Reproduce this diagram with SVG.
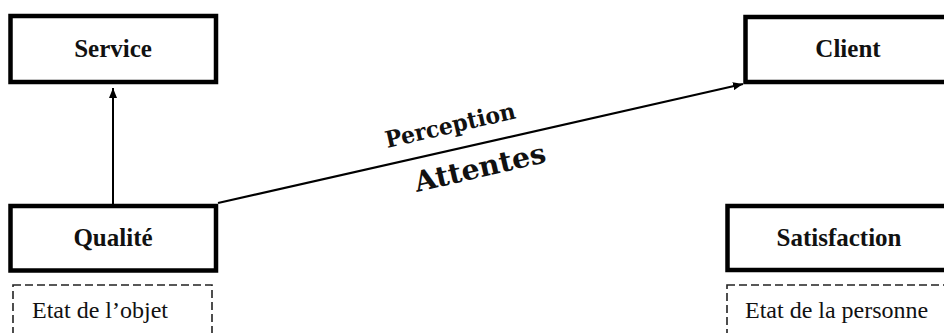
<svg xmlns="http://www.w3.org/2000/svg" width="944" height="333" viewBox="0 0 944 333">
<style>
.box{fill:#fff;stroke:#000;stroke-width:4.5}
.dash{fill:none;stroke:#222;stroke-width:1.6;stroke-dasharray:8 4}
.t{font-family:"Liberation Serif","Times New Roman",serif;font-weight:bold;font-size:25px;fill:#111;text-anchor:middle}
.s{font-family:"Liberation Serif","Times New Roman",serif;font-size:24px;fill:#111}
.l{font-family:"DejaVu Serif",serif;font-weight:bold;fill:#111;text-anchor:middle}
.c{stroke:#000;fill:none}
</style>
<defs>
<marker id="ah" viewBox="0 0 10 8" refX="10" refY="4" markerWidth="10" markerHeight="8" markerUnits="userSpaceOnUse" orient="auto">
<path d="M0,0 L10,4 L0,8 Z" fill="#000"/>
</marker>
</defs>
<rect width="944" height="333" fill="#fff"/>
<g id="service">
<rect class="box" x="10.5" y="16" width="205.5" height="66"/>
<text class="t" x="113" y="57">Service</text>
</g>
<g id="client">
<rect class="box" x="745.5" y="17" width="206" height="65"/>
<text class="t" x="848" y="57">Client</text>
</g>
<g id="qualite">
<rect class="box" x="10.5" y="206" width="205.5" height="64.5"/>
<text class="t" x="113" y="246">Qualité</text>
</g>
<g id="satisfaction">
<rect class="box" x="727.5" y="206" width="226" height="64"/>
<text class="t" x="839" y="246">Satisfaction</text>
</g>
<g id="etat-objet">
<rect class="dash" x="13" y="285" width="199" height="60"/>
<text class="s" x="32" y="318">Etat de l’objet</text>
</g>
<g id="etat-personne">
<rect class="dash" x="727" y="285" width="230" height="60"/>
<text class="s" x="745" y="318">Etat de la personne</text>
</g>
<g id="connectors">
<line class="c" x1="113" y1="204" x2="113" y2="88" stroke-width="2" marker-end="url(#ah)"/>
<line class="c" x1="218" y1="203" x2="743" y2="84" stroke-width="2.2" marker-end="url(#ah)"/>
<text class="l" font-size="23" x="452" y="133" transform="rotate(-13 452 133)" textLength="133" lengthAdjust="spacingAndGlyphs">Perception</text>
<text class="l" font-size="28" x="482" y="177" transform="rotate(-13 482 177)" textLength="134" lengthAdjust="spacingAndGlyphs">Attentes</text>
</g>
</svg>
